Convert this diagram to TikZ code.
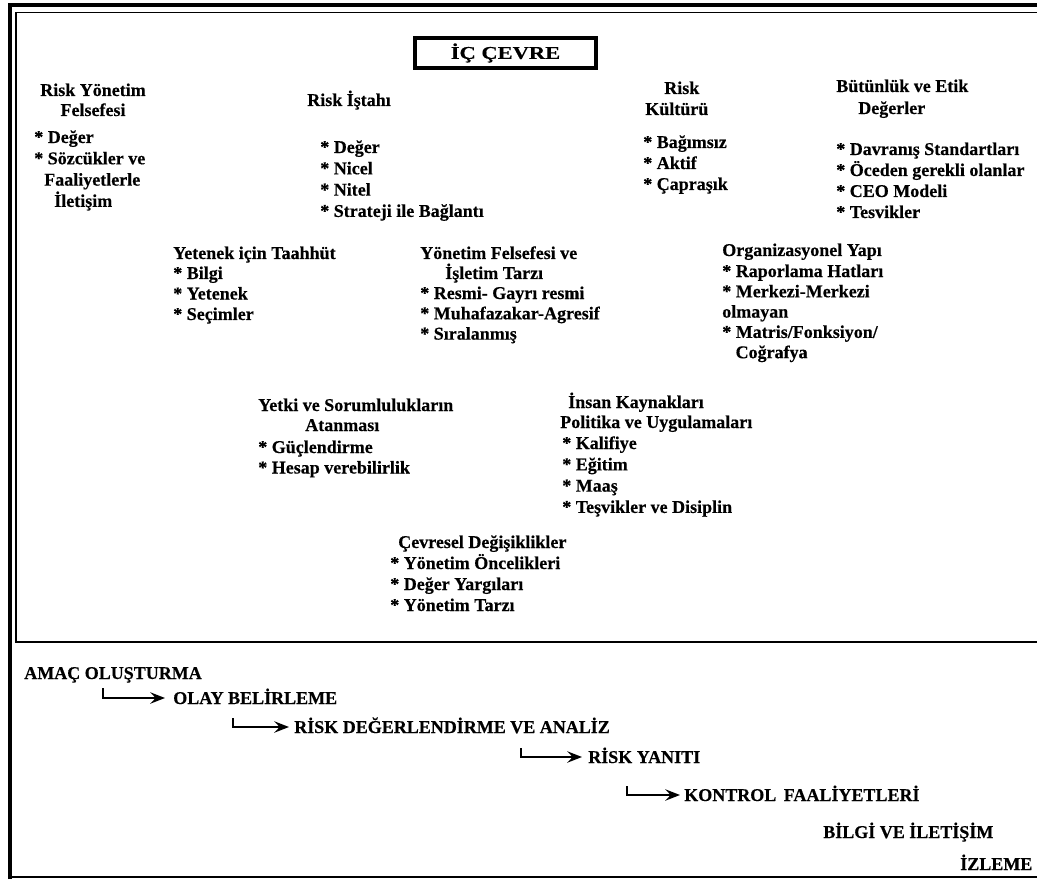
\documentclass[tikz,border=0pt]{standalone}
\usepackage{fontspec}
\setmainfont{Liberation Serif}[BoldFeatures={FakeBold=0.4}]
\usepackage{graphicx}
\usetikzlibrary{arrows.meta}
\newcommand\tlines[5]{%
  \foreach \itm [count=\i] in {#5}{\node[txt] (#1\i) at (#2,{#3+(\i-1)*#4}) {\itm};}}
\begin{document}
\begin{tikzpicture}[x=0.75pt,y=-0.75pt,
  txt/.style={font=\fontsize{13.5pt}{15.75pt}\selectfont\bfseries, inner sep=0pt, anchor=base west},
  ctxt/.style={txt, anchor=base},
  arr/.style={line width=1.9pt, -{Stealth[length=11pt,width=8.5pt,inset=4pt]}},
  titlebox/.style={draw, line width=2.4pt, minimum width=135.75pt, minimum height=22.5pt, inner sep=0pt,
    font=\fontsize{13.5pt}{15.75pt}\selectfont\bfseries}]
\useasboundingbox (0,0) rectangle (1037,880);
% frame
\draw[line width=3pt] (10,879) -- (10,5) -- (1037,5);
\draw[line width=1.8pt] (10,877) -- (1037,877);
\draw[line width=1.3pt] (1037,12.5) -- (16,12.5) -- (16,642) -- (1037,642);
% title
\node[titlebox] (title) at (505.5,53) {\scalebox{1.25}[1]{İÇ ÇEVRE}};
% Risk Yonetim Felsefesi
\node[ctxt] (ryfh1) at (93,96) {Risk Yönetim};
\node[ctxt] (ryfh2) at (93,116) {Felsefesi};
\tlines{ryf}{34}{143}{21.3}{{* Değer},{* Sözcükler ve},{\hspace*{7.5pt}Faaliyetlerle},{\hspace*{15pt}İletişim}}
% Risk Istahi
\node[txt] (rih) at (307,106) {Risk İştahı};
\tlines{ri}{320}{153}{21.3}{{* Değer},{* Nicel},{* Nitel},{* Strateji ile Bağlantı}}
% Risk Kulturu
\node[txt] (rkh1) at (664,94) {Risk};
\node[txt] (rkh2) at (645,115) {Kültürü};
\tlines{rk}{643}{148}{21}{{* Bağımsız},{* Aktif},{* Çapraşık}}
% Butunluk
\node[txt] (beh1) at (836,92) {Bütünlük ve Etik};
\node[txt] (beh2) at (858,114) {Değerler};
\tlines{be}{836}{155}{21}{{* Davranış Standartları},{* Öceden gerekli olanlar},{* CEO Modeli},{* Tesvikler}}
% Yetenek
\node[txt] (yth) at (173,259) {Yetenek için Taahhüt};
\tlines{yt}{173}{279}{20.5}{{* Bilgi},{* Yetenek},{* Seçimler}}
% Yonetim Felsefesi
\node[txt] (yfh1) at (420,259) {Yönetim Felsefesi ve};
\node[txt] (yfh2) at (445,279) {İşletim Tarzı};
\tlines{yf}{420}{299}{20.3}{{* Resmi- Gayrı resmi},{* Muhafazakar-Agresif},{* Sıralanmış}}
% Organizasyonel
\node[txt] (oyh) at (722,256) {Organizasyonel Yapı};
\tlines{oy}{722}{277}{20.3}{{* Raporlama Hatları},{* Merkezi-Merkezi},{olmayan},{* Matris/Fonksiyon/},{\hspace*{10pt}Coğrafya}}
% Yetki
\node[txt] (ysh1) at (258,411) {Yetki ve Sorumlulukların};
\node[txt] (ysh2) at (305,431) {Atanması};
\tlines{ys}{258}{453}{20.5}{{* Güçlendirme},{* Hesap verebilirlik}}
% Insan Kaynaklari
\node[txt] (ikh1) at (568,408) {İnsan Kaynakları};
\node[txt] (ikh2) at (560,428) {Politika ve Uygulamaları};
\tlines{ik}{562}{449}{21.3}{{* Kalifiye},{* Eğitim},{* Maaş},{* Teşvikler ve Disiplin}}
% Cevresel
\node[txt] (cdh) at (398,548) {Çevresel Değişiklikler};
\tlines{cd}{390}{569}{21}{{* Yönetim Öncelikleri},{* Değer Yargıları},{* Yönetim Tarzı}}
% bottom process
\node[txt] (amac) at (24,679) {AMAÇ OLUŞTURMA};
\node[txt] (olay) at (173,704) {OLAY BELİRLEME};
\node[txt] (rdva) at (294,733) {RİSK DEĞERLENDİRME VE ANALİZ};
\node[txt] (ry) at (588,763) {RİSK YANITI};
\node[txt] (kf) at (684,801) {KONTROL\, FAALİYETLERİ};
\node[txt] (bvi) at (823,838) {BİLGİ VE İLETİŞİM};
\node[txt] (izl) at (960,870) {İZLEME};
\coordinate (s1) at (103,688);
\coordinate (s2) at (233,718);
\coordinate (s3) at (521,748);
\coordinate (s4) at (627,786);
\draw[arr] (s1) |- ([shift={(-8,-6)}]olay.base west);
\draw[arr] (s2) |- ([shift={(-5,-6)}]rdva.base west);
\draw[arr] (s3) |- ([shift={(-6,-6)}]ry.base west);
\draw[arr] (s4) |- ([shift={(-4,-6)}]kf.base west);
\end{tikzpicture}
\end{document}
